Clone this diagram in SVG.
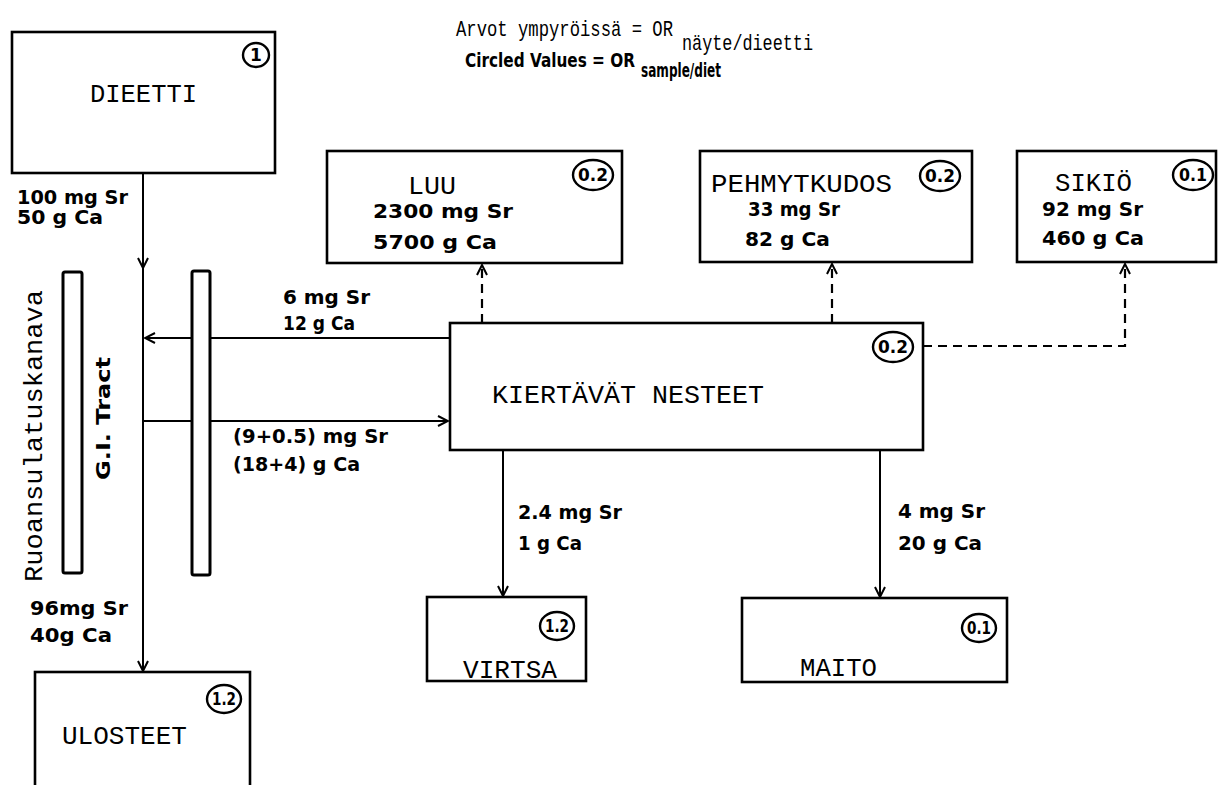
<svg xmlns="http://www.w3.org/2000/svg" width="1219" height="785" viewBox="0 0 1219 785">
<defs>
<style>
.box{fill:#fff;stroke:#000;stroke-width:2.6}
.gi{fill:#fff;stroke:#000;stroke-width:3}
.ln{fill:none;stroke:#000;stroke-width:2}
.dash{fill:none;stroke:#000;stroke-width:2.2;stroke-dasharray:9,6}
.nm{font-family:"Liberation Mono","DejaVu Sans Mono",monospace;font-size:26px;fill:#000}
.lb{font-family:"DejaVu Sans","Liberation Sans",sans-serif;font-weight:bold;font-size:19px;fill:#000}
.ov{fill:#fff;stroke:#000;stroke-width:2.4}
.ot{font-family:"DejaVu Sans","Liberation Sans",sans-serif;font-weight:bold;font-size:17px;fill:#000;text-anchor:middle}
.tt{font-family:"Liberation Mono","DejaVu Sans Mono",monospace;font-size:22px;fill:#000}
</style>
<marker id="ar" viewBox="0 0 12 12" refX="11" refY="6" markerWidth="12" markerHeight="12" markerUnits="userSpaceOnUse" orient="auto">
<path d="M1,1 L11,6 L1,11" fill="none" stroke="#000" stroke-width="2"/>
</marker>
</defs>
<rect width="1219" height="785" fill="#fff"/>

<g id="title">
<text class="tt" x="456" y="36" textLength="217" lengthAdjust="spacingAndGlyphs">Arvot ympyröissä = OR</text>
<text class="tt" x="682" y="50" font-size="21" textLength="131" lengthAdjust="spacingAndGlyphs">näyte/dieetti</text>
<text class="lb" x="465" y="67" font-size="17" textLength="170" lengthAdjust="spacingAndGlyphs">Circled Values = OR</text>
<text class="lb" x="641" y="77" font-size="15" textLength="80" lengthAdjust="spacingAndGlyphs">sample/diet</text>
</g>

<g id="connectors">
<path class="ln" d="M143,173 V268" marker-end="url(#ar)"/>
<path class="ln" d="M143,268 V671" marker-end="url(#ar)"/>
<path class="ln" d="M450,338 H145" marker-end="url(#ar)"/>
<path class="ln" d="M143,421 H448" marker-end="url(#ar)"/>
<path class="ln" d="M503,450 V596" marker-end="url(#ar)"/>
<path class="ln" d="M880,450 V597" marker-end="url(#ar)"/>
<path class="dash" d="M482,323 V265" marker-end="url(#ar)"/>
<path class="dash" d="M832,323 V264" marker-end="url(#ar)"/>
<path class="dash" d="M923,346 H1125 V264" marker-end="url(#ar)"/>
<text class="lb" x="17" y="204" textLength="111" lengthAdjust="spacingAndGlyphs">100 mg Sr</text>
<text class="lb" x="17" y="224" textLength="86" lengthAdjust="spacingAndGlyphs">50 g Ca</text>
<text class="lb" x="283" y="304" textLength="87" lengthAdjust="spacingAndGlyphs">6 mg Sr</text>
<text class="lb" x="283" y="330" textLength="72" lengthAdjust="spacingAndGlyphs">12 g Ca</text>
<text class="lb" x="233" y="443" textLength="155" lengthAdjust="spacingAndGlyphs">(9+0.5) mg Sr</text>
<text class="lb" x="233" y="471" textLength="127" lengthAdjust="spacingAndGlyphs">(18+4) g Ca</text>
<text class="lb" x="30" y="615" textLength="98" lengthAdjust="spacingAndGlyphs">96mg Sr</text>
<text class="lb" x="30" y="642" textLength="82" lengthAdjust="spacingAndGlyphs">40g Ca</text>
<text class="lb" x="518" y="519" textLength="104" lengthAdjust="spacingAndGlyphs">2.4 mg Sr</text>
<text class="lb" x="518" y="550" textLength="64" lengthAdjust="spacingAndGlyphs">1 g Ca</text>
<text class="lb" x="898" y="518" textLength="87" lengthAdjust="spacingAndGlyphs">4 mg Sr</text>
<text class="lb" x="898" y="550" textLength="84" lengthAdjust="spacingAndGlyphs">20 g Ca</text>
</g>

<g id="gi-tract">
<rect class="gi" x="63" y="272" width="19" height="301" rx="2"/>
<rect class="gi" x="192" y="271" width="18" height="304" rx="2"/>
<text class="nm" transform="translate(42,582) rotate(-90)" font-size="27" textLength="292" lengthAdjust="spacingAndGlyphs">Ruoansulatuskanava</text>
<text class="lb" transform="translate(110,480) rotate(-90)" font-size="20" textLength="123" lengthAdjust="spacingAndGlyphs">G.I. Tract</text>
</g>

<g id="dieetti">
<rect class="box" x="12" y="32" width="263" height="141"/>
<ellipse class="ov" cx="256" cy="55" rx="13" ry="12"/>
<text class="ot" x="256" y="61">1</text>
<text class="nm" x="90" y="102" textLength="107" lengthAdjust="spacingAndGlyphs">DIEETTI</text>
</g>

<g id="luu">
<rect class="box" x="327" y="151" width="295" height="112"/>
<ellipse class="ov" cx="593" cy="175" rx="20" ry="15"/>
<text class="ot" x="593" y="181" textLength="30" lengthAdjust="spacingAndGlyphs">0.2</text>
<text class="nm" x="408" y="194" textLength="48" lengthAdjust="spacingAndGlyphs">LUU</text>
<text class="lb" x="373" y="218" textLength="140" lengthAdjust="spacingAndGlyphs">2300 mg Sr</text>
<text class="lb" x="373" y="249" textLength="124" lengthAdjust="spacingAndGlyphs">5700 g Ca</text>
</g>

<g id="pehmytkudos">
<rect class="box" x="700" y="151" width="272" height="111"/>
<ellipse class="ov" cx="940" cy="176" rx="20" ry="15"/>
<text class="ot" x="940" y="182" textLength="30" lengthAdjust="spacingAndGlyphs">0.2</text>
<text class="nm" x="711" y="192" textLength="181" lengthAdjust="spacingAndGlyphs">PEHMYTKUDOS</text>
<text class="lb" x="748" y="216" textLength="92" lengthAdjust="spacingAndGlyphs">33 mg Sr</text>
<text class="lb" x="745" y="246" textLength="85" lengthAdjust="spacingAndGlyphs">82 g Ca</text>
</g>

<g id="sikio">
<rect class="box" x="1017" y="151" width="199" height="111"/>
<ellipse class="ov" cx="1193" cy="175" rx="20" ry="15"/>
<text class="ot" x="1193" y="181" textLength="28" lengthAdjust="spacingAndGlyphs">0.1</text>
<text class="nm" x="1055" y="191" textLength="77" lengthAdjust="spacingAndGlyphs">SIKIÖ</text>
<text class="lb" x="1042" y="216" textLength="101" lengthAdjust="spacingAndGlyphs">92 mg Sr</text>
<text class="lb" x="1042" y="245" textLength="102" lengthAdjust="spacingAndGlyphs">460 g Ca</text>
</g>

<g id="kiertavat-nesteet">
<rect class="box" x="450" y="323" width="473" height="127"/>
<ellipse class="ov" cx="893" cy="347" rx="20" ry="15"/>
<text class="ot" x="893" y="353" textLength="30" lengthAdjust="spacingAndGlyphs">0.2</text>
<text class="nm" x="492" y="403" textLength="272" lengthAdjust="spacingAndGlyphs">KIERTÄVÄT NESTEET</text>
</g>

<g id="virtsa">
<rect class="box" x="427" y="597" width="159" height="84"/>
<ellipse class="ov" cx="557" cy="626" rx="17" ry="14"/>
<text class="ot" x="557" y="632" textLength="24" lengthAdjust="spacingAndGlyphs">1.2</text>
<text class="nm" x="463" y="678" textLength="94" lengthAdjust="spacingAndGlyphs">VIRTSA</text>
</g>

<g id="maito">
<rect class="box" x="742" y="598" width="265" height="84"/>
<ellipse class="ov" cx="979" cy="628" rx="17" ry="14"/>
<text class="ot" x="979" y="634" textLength="24" lengthAdjust="spacingAndGlyphs">0.1</text>
<text class="nm" x="800" y="676" textLength="77" lengthAdjust="spacingAndGlyphs">MAITO</text>
</g>

<g id="ulosteet">
<rect class="box" x="35" y="672" width="215" height="130"/>
<ellipse class="ov" cx="224" cy="699" rx="17" ry="14"/>
<text class="ot" x="224" y="705" textLength="24" lengthAdjust="spacingAndGlyphs">1.2</text>
<text class="nm" x="62" y="744" textLength="125" lengthAdjust="spacingAndGlyphs">ULOSTEET</text>
</g>
</svg>
